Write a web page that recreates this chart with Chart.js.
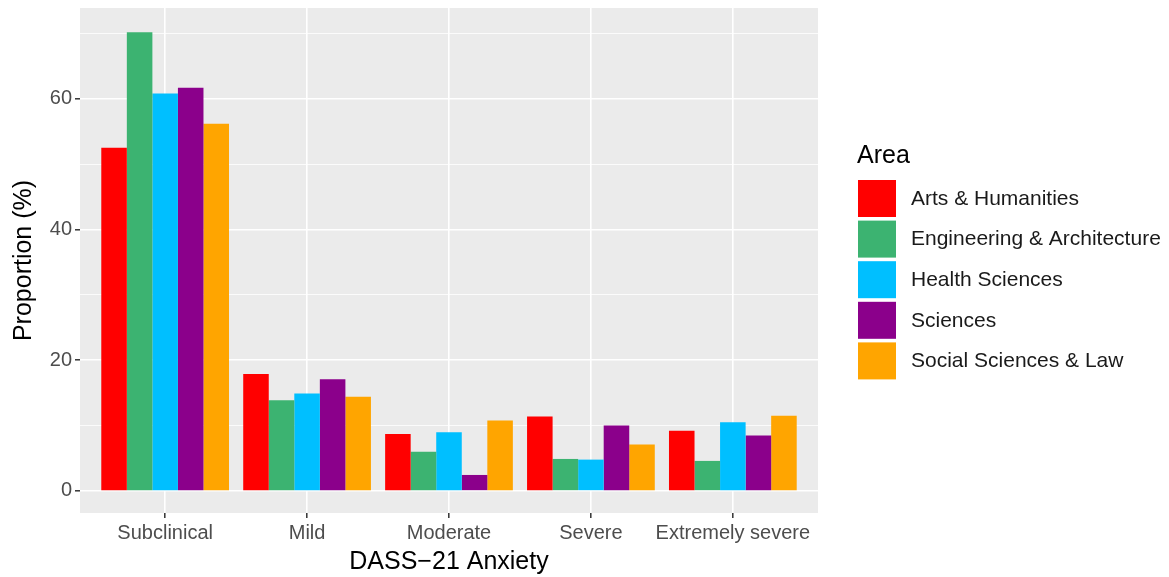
<!DOCTYPE html>
<html>
<head>
<meta charset="utf-8">
<script src="https://cdn.jsdelivr.net/npm/chart.js@4"></script>
<style>
html,body{margin:0;padding:0;background:#fff;}
#wrap{width:1169px;height:577px;position:relative;}
</style>
</head>
<body>
<div id="wrap"><canvas id="c" width="1169" height="577"></canvas></div>
<script>
const categories = ["Subclinical", "Mild", "Moderate", "Severe", "Extremely severe"];
const areas = ["Arts & Humanities", "Engineering & Architecture", "Health Sciences", "Sciences", "Social Sciences & Law"];
const colors = ["#FF0000", "#3CB371", "#00BFFF", "#8B008B", "#FFA500"];
const artsHumanities = [52.5, 17.9, 8.7, 11.4, 9.2];
const engineeringArchitecture = [70.2, 13.9, 6.0, 4.9, 4.6];
const healthSciences = [60.8, 14.9, 9.0, 4.8, 10.5];
const sciences = [61.7, 17.1, 2.45, 10.0, 8.5];
const socialSciencesLaw = [56.2, 14.4, 10.8, 7.1, 11.5];
const yTicks = [0, 10, 20, 30, 40, 50, 60, 70];
const yMajor = [0, 20, 40, 60];

const seriesValues = [artsHumanities, engineeringArchitecture, healthSciences, sciences, socialSciencesLaw];
const FONT = "'Liberation Sans', Arial, Helvetica, sans-serif";

const panelBg = {
  id: 'panelBg',
  beforeDraw(chart) {
    const {ctx, chartArea: a} = chart;
    ctx.save();
    ctx.fillStyle = '#EBEBEB';
    ctx.fillRect(a.left, a.top, a.right - a.left, a.bottom - a.top);
    ctx.restore();
  }
};

const ggLegend = {
  id: 'ggLegend',
  afterDraw(chart) {
    const ctx = chart.ctx;
    ctx.save();
    ctx.fillStyle = '#000';
    ctx.font = '25px ' + FONT;
    ctx.textAlign = 'left';
    ctx.textBaseline = 'alphabetic';
    ctx.fillText('Area', 857, 163);
    chart.data.datasets.forEach((ds, i) => {
      const top = 180 + i * 40.6;
      ctx.fillStyle = ds.backgroundColor;
      ctx.fillRect(858, top, 38, 37);
      ctx.fillStyle = '#1A1A1A';
      ctx.font = '21px ' + FONT;
      ctx.textBaseline = 'middle';
      ctx.fillText(ds.label, 911, top + 19);
    });
    ctx.restore();
  }
};

new Chart(document.getElementById('c'), {
  type: 'bar',
  data: {
    datasets: areas.map((a, i) => ({
      label: a,
      data: seriesValues[i].map((v, j) => ({x: j + 1, y: v})),
      backgroundColor: colors[i],
      borderWidth: 0,
      categoryPercentage: 0.9,
      barPercentage: 1.0
    }))
  },
  options: {
    responsive: false,
    animation: false,
    devicePixelRatio: 1,
    layout: {padding: {left: 0, right: 351, top: 8, bottom: 0}},
    plugins: {legend: {display: false}, tooltip: {enabled: false}},
    scales: {
      x: {
        type: 'linear',
        offset: false,
        min: 0.4,
        max: 5.6,
        afterBuildTicks(scale) { scale.ticks = categories.map((c, i) => ({value: i + 1})); },
        afterFit(scale) { scale.height = 64; scale.paddingLeft = 0; scale.paddingRight = 0; },
        grid: {offset: false, color: '#FFFFFF', lineWidth: 1.6, tickColor: '#333333', tickWidth: 1.5, tickLength: 5},
        border: {display: false},
        ticks: {
          autoSkip: false, maxRotation: 0, padding: 3,
          color: '#4D4D4D', font: {family: FONT, size: 20},
          callback: (v) => categories[Math.round(v) - 1] || ''
        },
        title: {display: true, text: 'DASS\u221221 Anxiety', color: '#000', font: {family: FONT, size: 25}, padding: {top: 0, bottom: 0}}
      },
      y: {
        type: 'linear',
        min: -3.37,
        max: 73.9,
        afterBuildTicks(scale) { scale.ticks = yTicks.map(v => ({value: v})); },
        afterFit(scale) { scale.width = 80; scale.paddingTop = 0; scale.paddingBottom = 0; },
        grid: {
          color: '#FFFFFF',
          lineWidth: (c) => (c.tick && yMajor.includes(c.tick.value)) ? 1.6 : 0.8,
          tickColor: (c) => (c.tick && yMajor.includes(c.tick.value)) ? '#333333' : 'rgba(0,0,0,0)',
          tickWidth: 1.5, tickLength: 5
        },
        border: {display: false},
        ticks: {
          autoSkip: false, padding: 3,
          color: '#4D4D4D', font: {family: FONT, size: 20},
          callback: (v) => yMajor.includes(v) ? String(v) : ''
        },
        title: {display: true, text: 'Proportion (%)', color: '#000', font: {family: FONT, size: 25}, padding: {top: 9, bottom: 0}}
      }
    }
  },
  plugins: [panelBg, ggLegend]
});
</script>
</body>
</html>
